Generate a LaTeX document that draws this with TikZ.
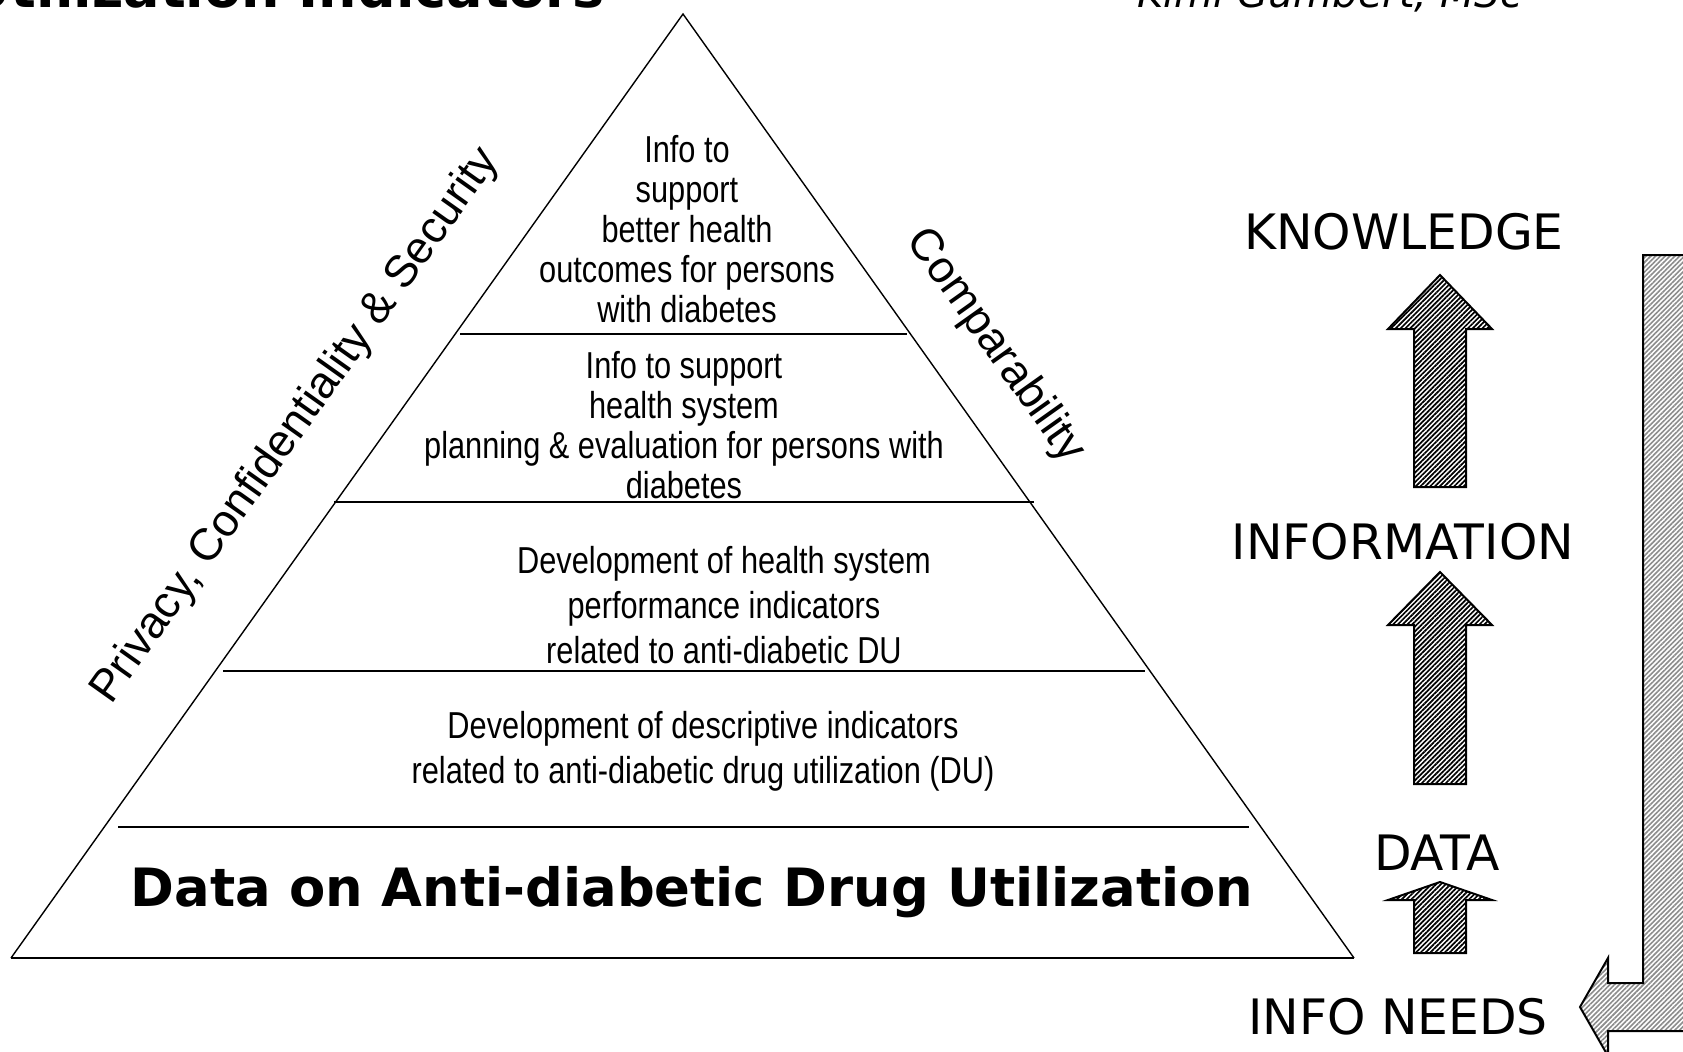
\documentclass[tikz,border=0pt]{standalone}
\usepackage{fontspec}
\setmainfont{Liberation Sans}
\newfontfamily\narrowfont[FakeStretch=0.82]{Liberation Sans}
\newfontfamily\verdanafont{DejaVu Sans}
\usetikzlibrary{patterns.meta,calc}
\tikzset{
    tiertext/.style={align=center, inner sep=0pt,
                     font=\narrowfont\fontsize{18.75}{20}\selectfont},
    tiertextwide/.style={align=center, inner sep=0pt,
                     font=\narrowfont\fontsize{18.75}{22.5}\selectfont},
    sidetext/.style={inner sep=0pt, font=\fontsize{22.5}{27}\selectfont},
    leveltext/.style={inner sep=0pt, font=\verdanafont\fontsize{24.4}{28}\selectfont},
    tierline/.style={line width=1pt},
    uparrow/.style={draw, line width=1pt,
                    pattern={Lines[angle=45,distance=1.7pt,line width=0.85pt]},
                    pattern color=black},
    bigarrow/.style={draw, line width=1pt,
                    pattern={Lines[angle=45,distance=1.7pt,line width=0.8pt]},
                    pattern color=black!45},
}

\begin{document}
\begin{tikzpicture}[x=0.5pt, y=-0.5pt]
        \fill[white] (0,0) rectangle (1683,1051);
        \useasboundingbox (0,0) rectangle (1683,1051);

        % Heading, cut at the top edge
        \node[anchor=base east, inner sep=0pt, font=\verdanafont\bfseries\fontsize{27}{32}\selectfont]
            (title) at (605,7) {Utilization Indicators};
        \node[anchor=base west, inner sep=0pt, font=\verdanafont\itshape\fontsize{20}{24}\selectfont]
            (author) at (1137,7) {Kimi Gumbert, MSc};

        % Pyramid
        \coordinate (apex)  at (683,14);
        \coordinate (baseL) at (11,958);
        \coordinate (baseR) at (1354,958);
        \draw[line width=0.7pt] (baseL) -- (apex) -- (baseR);
        \draw[tierline] (baseL) -- (baseR);
        \draw[tierline] (460,334) -- (907,334);
        \draw[tierline] (334,502) -- (1034,502);
        \draw[tierline] (223,671) -- (1145,671);
        \draw[tierline] (118,827) -- (1249,827);

        % Tiers
        \node[tiertext]     (tierone)   at (687,229) {Info to\\support\\better health\\outcomes for persons\\with diabetes};
        \node[tiertext]     (tiertwo)   at (684,425) {Info to support\\health system\\planning \& evaluation for persons with\\diabetes};
        \node[tiertextwide] (tierthree) at (724,605) {Development of health system\\performance indicators\\related to anti-diabetic DU};
        \node[tiertextwide] (tierfour)  at (703,751) {Development of descriptive indicators\\related to anti-diabetic drug utilization (DU)};
        \node[inner sep=0pt, font=\verdanafont\bfseries\fontsize{26.4}{30}\selectfont]
            (database) at (692,892) {Data on Anti-diabetic Drug Utilization};

        % Sides
        \node[sidetext, rotate=54.6]  (privacy) at (296,426) {Privacy, Confidentiality \& Security};
        \node[sidetext, rotate=-54.6] (compar)  at (995,346) {Comparability};

        % Levels
        \node[leveltext] (knowledge)   at (1404,232)  {KNOWLEDGE};
        \node[leveltext] (information) at (1403,542)  {INFORMATION};
        \node[leveltext] (data)        at (1437,853)  {DATA};
        \node[leveltext] (infoneeds)   at (1398,1017) {INFO NEEDS};

        % Block arrows
        \draw[uparrow] (1414,487) -- (1414,329) -- (1388,329) -- (1440,275) -- (1492,329) -- (1466,329) -- (1466,487) -- cycle;
        \draw[uparrow] (1414,784) -- (1414,625) -- (1388,625) -- (1440,572) -- (1492,625) -- (1466,625) -- (1466,784) -- cycle;
        \draw[uparrow] (1414,953) -- (1414,900) -- (1388,900) -- (1440,882) -- (1492,900) -- (1466,900) -- (1466,953) -- cycle;
        \draw[bigarrow] (1700,255) -- (1643,255) -- (1643,983) -- (1608,983) -- (1608,958) -- (1580,1007)
            -- (1608,1056) -- (1608,1031) -- (1700,1031) -- cycle;
    \end{tikzpicture}
\end{document}
